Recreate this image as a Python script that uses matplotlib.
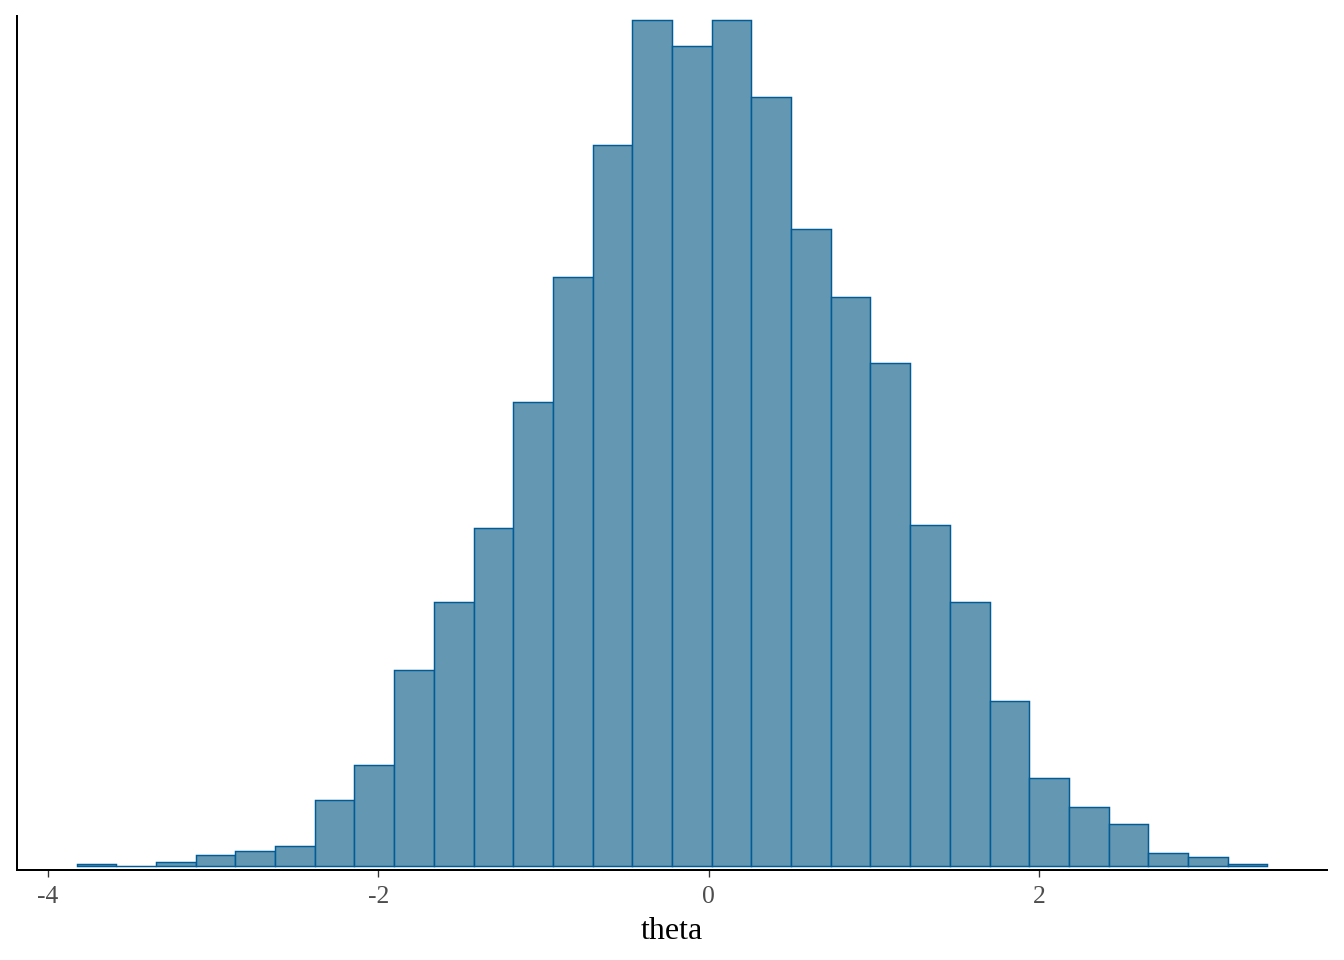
import matplotlib
import matplotlib.pyplot as plt
import numpy as np

matplotlib.use("Agg")

# posterior draws of theta, binned into 30 bins
bin_start = -3.826
bin_width = 0.2402
counts = [1, 0, 2, 5, 7, 9, 30, 46, 89, 120,
          154, 211, 268, 328, 385, 373, 385, 350, 290, 259,
          229, 155, 120, 75, 40, 27, 19, 6, 4, 1]
x_ticks = [-4, -2, 0, 2]
x_label = "theta"

FILL = "#6497b1"
EDGE = "#005b96"

plt.rcParams["font.family"] = ["Liberation Serif", "DejaVu Serif"]

edges = bin_start + bin_width * np.arange(len(counts) + 1)
lefts = edges[:-1]

fig = plt.figure(figsize=(7, 5), dpi=192)
ax = fig.add_axes([17 / 1344, 1 - 870 / 960, 1310 / 1344, 854 / 960])

ax.bar(lefts, counts, width=bin_width, align="edge",
       color=FILL, edgecolor=EDGE, linewidth=0.55)

span = edges[-1] - edges[0]
ax.set_xlim(edges[0] - 0.05 * span, edges[-1] + 0.05 * span)
top = max(counts)
ax.set_ylim(-0.0048 * top, top * 1.0048)

ax.set_xticks(x_ticks)
ax.set_xticklabels([str(t) if t >= 0 else "-" + str(abs(t)) for t in x_ticks])
ax.tick_params(axis="x", length=2.7, width=0.5, color="#333333",
               labelcolor="#4d4d4d", labelsize=9.6, pad=3.2)
ax.set_yticks([])

for side in ("top", "right"):
    ax.spines[side].set_visible(False)
for side in ("left", "bottom"):
    ax.spines[side].set_linewidth(0.75)
    ax.spines[side].set_color("black")

ax.set_xlabel(x_label, fontsize=12, color="black", labelpad=3.6)

fig.savefig("out.png", dpi=192, facecolor="white")
plt.close(fig)
